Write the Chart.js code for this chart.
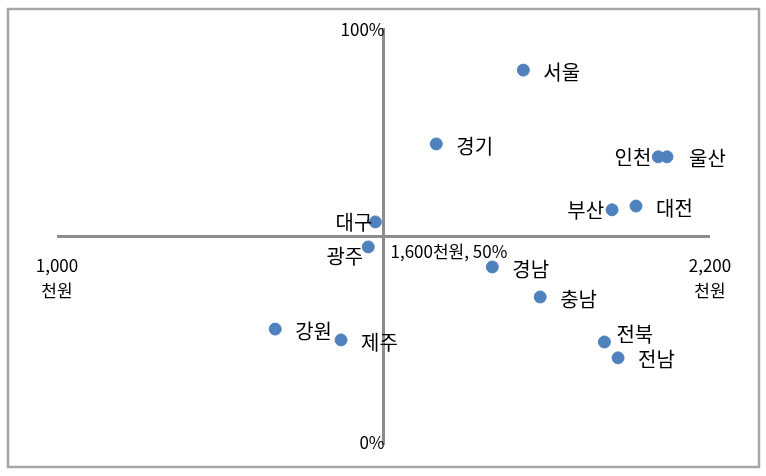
<!DOCTYPE html>
<html lang="ko">
<head>
<meta charset="utf-8">
<script src="https://cdn.jsdelivr.net/npm/chart.js@4"></script>
<style>
    body { margin: 0; background: #fff; }
    #wrap { width: 766px; height: 476px; }
</style>
</head>
<body>
<div id="wrap"><canvas id="chart" width="766" height="476"></canvas></div>
<script>
// 지역별 값 (x: 천원, y: %)
const regions = ['서울', '경기', '인천', '울산', '부산', '대전', '대구', '광주', '경남', '충남', '강원', '제주', '전북', '전남'];
const xValues = [1857, 1697, 2105, 2121, 2020, 2064, 1585, 1572, 1800, 1888, 1401, 1522, 2006, 2031];
const yValues = [89.9, 72.2, 69.1, 69.1, 56.4, 57.3, 53.5, 47.5, 42.7, 35.5, 27.8, 25.2, 24.7, 20.9];

const xRange = [1000, 2200];
const yRange = [0, 100];
const center = [1600, 50];
const tickLabels = {
    xMin: ['1,000', '천원'],
    xMax: ['2,200', '천원'],
    yMax: '100%',
    yMin: '0%',
    center: '1,600천원, 50%'
};

// label placement around each point
const labelPos = {
    '인천': { side: 'left', dx: -7, dy: 1 },
    '부산': { side: 'left', dx: -8, dy: 1 },
    '대구': { side: 'left', dx: -3, dy: 1 },
    '광주': { side: 'left', dx: -5, dy: 9 },
    '울산': { side: 'right', dx: 22, dy: 2 },
    '전북': { side: 'right', dx: 12, dy: -8 }
};

const FONT = '"Noto Sans CJK KR", "Noto Sans", sans-serif';

const quadrantPlugin = {
    id: 'quadrant',
    beforeDatasetsDraw(chart) {
        const { ctx, scales: { x, y } } = chart;
        ctx.save();
        // frame
        ctx.strokeStyle = '#a6a6a6';
        ctx.lineWidth = 2.5;
        ctx.strokeRect(8, 9, 751, 458);
        // cross axes
        ctx.strokeStyle = '#8c8c8c';
        ctx.lineWidth = 3;
        const cx = x.getPixelForValue(center[0]);
        const cy = y.getPixelForValue(center[1]);
        ctx.beginPath();
        ctx.moveTo(x.getPixelForValue(xRange[0]), cy);
        ctx.lineTo(x.getPixelForValue(xRange[1]), cy);
        ctx.moveTo(cx, y.getPixelForValue(yRange[1]));
        ctx.lineTo(cx, y.getPixelForValue(yRange[0]));
        ctx.stroke();

        // axis texts
        ctx.fillStyle = '#000';
        ctx.font = '17px ' + FONT;
        ctx.textBaseline = 'middle';
        ctx.textAlign = 'center';
        const x0 = x.getPixelForValue(xRange[0]);
        const x1 = x.getPixelForValue(xRange[1]);
        ctx.fillText(tickLabels.xMin[0], x0, cy + 29);
        ctx.fillText(tickLabels.xMin[1], x0, cy + 54);
        ctx.fillText(tickLabels.xMax[0], x1, cy + 29);
        ctx.fillText(tickLabels.xMax[1], x1, cy + 54);
        ctx.textAlign = 'right';
        ctx.fillText(tickLabels.yMax, cx + 1, y.getPixelForValue(yRange[1]) + 2);
        ctx.fillText(tickLabels.yMin, cx + 1, y.getPixelForValue(yRange[0]) - 2);
        ctx.textAlign = 'left';
        ctx.fillText(tickLabels.center, cx + 7, cy + 15);
        ctx.restore();
    },
    afterDatasetsDraw(chart) {
        const { ctx } = chart;
        const meta = chart.getDatasetMeta(0);
        ctx.save();
        ctx.fillStyle = '#000';
        ctx.font = '20px ' + FONT;
        ctx.textBaseline = 'middle';
        meta.data.forEach((pt, i) => {
            const name = regions[i];
            const p = labelPos[name] || { side: 'right', dx: 20, dy: 2 };
            ctx.textAlign = p.side === 'left' ? 'right' : 'left';
            ctx.fillText(name, pt.x + p.dx, pt.y + p.dy);
        });
        ctx.restore();
    }
};

new Chart(document.getElementById('chart'), {
    type: 'scatter',
    data: {
        datasets: [{
            label: '지역',
            data: regions.map((r, i) => ({ x: xValues[i], y: yValues[i] })),
            backgroundColor: '#4f81bd',
            borderColor: '#4f81bd',
            pointRadius: 6,
            pointHoverRadius: 6
        }]
    },
    options: {
        responsive: false,
        animation: false,
        layout: {
            padding: { left: 57, right: 56, top: 28, bottom: 31 }
        },
        plugins: {
            legend: { display: false },
            tooltip: { enabled: false }
        },
        scales: {
            x: { type: 'linear', min: xRange[0], max: xRange[1], display: false },
            y: { type: 'linear', min: yRange[0], max: yRange[1], display: false }
        }
    },
    plugins: [quadrantPlugin]
});
</script>
</body>
</html>
